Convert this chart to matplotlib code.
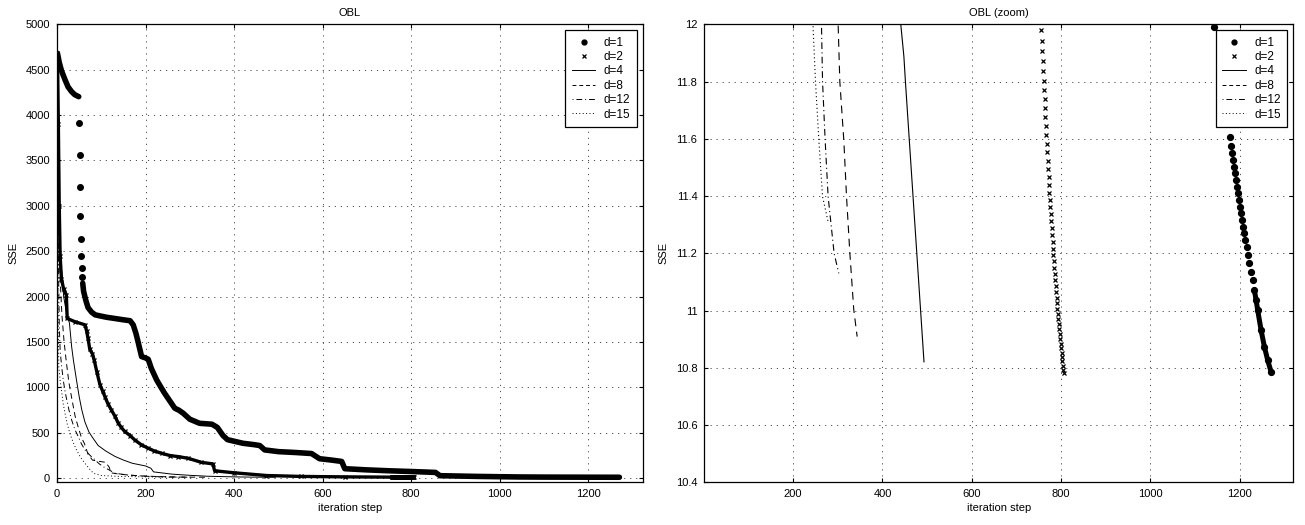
import matplotlib
matplotlib.use('Agg')
import matplotlib.pyplot as plt
from matplotlib.lines import Line2D
from matplotlib.ticker import FormatStrFormatter

plt.rcParams['font.family'] = ['Liberation Sans', 'DejaVu Sans']
plt.rcParams['font.size'] = 8

# d=1 : dense band at start, a few isolated iterations, then the long band
d1_head_x = [1, 5, 10, 18, 25, 33, 40, 49]
d1_head_y = [4680, 4580, 4490, 4390, 4310, 4258, 4225, 4203]
d1_jump_x = [50, 51, 52, 53, 54, 55, 56, 57]
d1_jump_y = [3916, 3561, 3211, 2889, 2632, 2448, 2313, 2214]
d1_body_x = [58, 60, 65, 70, 78, 86, 100, 112, 130, 150, 165, 172, 178, 183, 191, 200,
             206, 213, 225, 235, 243, 255, 266, 275, 285, 300, 322, 350, 362, 375, 385,
             398, 420, 445, 458, 469, 500, 540, 575, 593, 620, 643, 650, 700, 750, 800,
             855, 865, 950, 1044, 1100]
d1_body_y = [2148, 2060, 1960, 1880, 1830, 1800, 1785, 1773, 1760, 1745, 1735, 1690, 1600,
             1504, 1340, 1325, 1310, 1210, 1083, 1000, 936, 850, 771, 750, 716, 650, 605,
             595, 560, 470, 425, 410, 385, 370, 360, 312, 293, 283, 272, 215, 200, 185,
             105, 92, 82, 74, 64, 28, 20, 14, 12.5]
d1_tail_x = [1143, 1177, 1178.5, 1180.7, 1183, 1186, 1188, 1190.4, 1192, 1194, 1196.4,
             1197.8, 1200.9, 1203, 1205.4, 1207.6, 1210.5, 1212.8, 1215.7, 1218.8, 1221.7,
             1225.5, 1229, 1232.9, 1236.7, 1240.3, 1247.9, 1255.3, 1262.7, 1270.3]
d1_tail_y = [11.99, 11.654, 11.605, 11.576, 11.549, 11.526, 11.503, 11.479, 11.456, 11.433,
             11.410, 11.386, 11.363, 11.340, 11.316, 11.293, 11.270, 11.246, 11.221, 11.194,
             11.165, 11.136, 11.107, 11.072, 11.037, 11.002, 10.932, 10.874, 10.827, 10.786]

d2_x = [1, 3, 5, 7, 10, 15, 21, 23, 40, 63, 67, 70, 74, 80, 84, 90, 97, 103, 108, 115,
        123, 130, 138, 145, 153, 165, 176, 190, 206, 220, 236, 255, 274, 296, 326, 352,
        356, 400, 473, 550, 650,
        756, 757, 758, 759, 760, 761, 762, 763, 764, 765, 766, 767, 768, 769, 770, 771,
        772, 773, 774, 775, 776, 777, 778, 779, 780, 781, 782, 783, 784, 785, 786, 787,
        788, 789, 790, 791, 792, 793, 794, 795, 796, 797, 798, 799, 800, 801, 802, 803,
        804, 805, 806]
d2_y = [4680, 3900, 3000, 2450, 2200, 2080, 2020, 1760, 1725, 1690, 1620, 1540, 1420,
        1370, 1300, 1170, 1030, 960, 900, 820, 750, 690, 610, 560, 515, 470, 420, 370,
        330, 300, 275, 250, 238, 220, 175, 158, 82, 60, 30, 20, 15,
        11.980, 11.943, 11.907, 11.871, 11.838, 11.803, 11.771, 11.738, 11.707, 11.675,
        11.644, 11.612, 11.582, 11.553, 11.523, 11.496, 11.468, 11.440, 11.412, 11.386,
        11.363, 11.337, 11.312, 11.287, 11.263, 11.239, 11.216, 11.194, 11.172, 11.150,
        11.128, 11.107, 11.086, 11.065, 11.045, 11.025, 11.005, 10.987, 10.969, 10.952,
        10.934, 10.917, 10.900, 10.883, 10.868, 10.853, 10.838, 10.823, 10.807, 10.793,
        10.781]

d4_x = [1, 3, 6, 10, 15, 22, 28, 33, 37, 44, 50, 56, 63, 72, 80, 93, 110, 131, 150, 170,
        185, 200, 212, 218, 260, 300, 340, 400, 441, 448, 451.4, 493]
d4_y = [4680, 3500, 2700, 2300, 2000, 1800, 1710, 1450, 1300, 1080, 900, 752, 620, 510,
        450, 360, 300, 240, 200, 165, 150, 135, 110, 70, 45, 32, 22, 15, 12.0, 11.887,
        11.80, 10.821]

d8_x = [1, 2, 4, 7, 11, 16, 21, 27, 34, 41, 48, 55, 62, 70, 80, 90, 110, 118, 122, 140,
        180, 230, 270, 300.7, 304.5, 313.4, 319.5, 327, 335.8, 343.3]
d8_y = [4680, 3600, 2800, 2200, 1800, 1500, 1280, 1050, 860, 680, 560, 450, 380, 265,
        200, 190, 175, 120, 60, 45, 28, 18, 14, 12.0, 11.8, 11.596, 11.398, 11.2, 11.002,
        10.909]

d12_x = [1, 2, 3, 5, 7, 10, 14, 18, 22, 27, 33, 40, 48, 55, 63, 75, 86, 95, 104, 118,
         131, 160, 200, 240, 263.5, 265.8, 271.6, 278.3, 291.7, 302.2]
d12_y = [4680, 3300, 2500, 1700, 1413, 1250, 1083, 960, 862, 750, 642, 540, 458, 380,
         312, 250, 201, 160, 128, 90, 55, 35, 22, 15, 11.992, 11.8, 11.596, 11.398, 11.2,
         11.13]

d15_x = [1, 2, 3, 4, 7, 11, 14, 18, 23, 29, 36, 44, 53, 63, 72, 82, 100, 140, 200,
         244.7, 250, 257.5, 265.8, 278.3]
d15_y = [4680, 2500, 1600, 1229, 1080, 936, 820, 716, 600, 495, 400, 312, 230, 165, 110,
         55, 30, 20, 15, 11.986, 11.8, 11.596, 11.398, 11.31]

labels = ['d=1', 'd=2', 'd=4', 'd=8', 'd=12', 'd=15']

fig = plt.figure(figsize=(13.05, 5.25), dpi=100)
ax1 = fig.add_axes([0.0437, 0.0813, 0.4488, 0.8724])
ax2 = fig.add_axes([0.5397, 0.0813, 0.4513, 0.8724])

# left: full run
ax1.plot(d1_head_x, d1_head_y, 'k-', lw=4, solid_capstyle='round')
ax1.plot(d1_jump_x, d1_jump_y, 'ko', ms=4)
ax1.plot(d1_body_x + d1_tail_x, d1_body_y + d1_tail_y, 'k-', lw=4, solid_capstyle='round')
ax1.plot(d2_x, d2_y, 'k-', lw=2.4)
ax1.plot(d2_x, d2_y, 'kx', ms=3, mew=0.9)
ax1.plot(d4_x, d4_y, 'k-', lw=0.7)
ax1.plot(d8_x, d8_y, 'k', ls=(0, (6, 4)), lw=0.7)
ax1.plot(d12_x, d12_y, 'k', ls=(0, (6, 3, 1, 3)), lw=0.7)
ax1.plot(d15_x, d15_y, 'k', ls=(0, (1, 2.5)), lw=0.7)

# right: zoom on the end of the runs
dense = [y < 11.1 for y in d1_tail_y]
ax2.plot([x for x, m in zip(d1_tail_x, dense) if m],
         [y for y, m in zip(d1_tail_y, dense) if m], 'k-', lw=3.6, solid_capstyle='round')
ax2.plot(d1_tail_x, d1_tail_y, 'ko', ms=4.2)
ax2.plot(d2_x, d2_y, 'kx', ms=2.3, mew=0.9, ls='none')
ax2.plot(d4_x, d4_y, 'k-', lw=0.8)
ax2.plot(d8_x, d8_y, 'k', ls=(0, (7, 5)), lw=0.8)
ax2.plot(d12_x, d12_y, 'k', ls=(0, (6, 3, 1, 3)), lw=0.8)
ax2.plot(d15_x, d15_y, 'k', ls=(0, (1, 2.5)), lw=0.8)

ax1.set_xlim(0, 1323)
ax1.set_ylim(-45, 5000)
ax1.set_xticks([0, 200, 400, 600, 800, 1000, 1200])
ax1.set_yticks(range(0, 5001, 500))
ax1.set_title('OBL', fontsize=8, pad=6)

ax2.set_xlim(1, 1320)
ax2.set_ylim(10.4, 12)
ax2.set_xticks([200, 400, 600, 800, 1000, 1200])
ax2.set_yticks([10.4, 10.6, 10.8, 11.0, 11.2, 11.4, 11.6, 11.8, 12.0])
ax2.yaxis.set_major_formatter(FormatStrFormatter('%g'))
ax2.set_title('OBL (zoom)', fontsize=8, pad=6)

handles = [
    Line2D([], [], color='k', marker='o', ms=3.5, ls='none'),
    Line2D([], [], color='k', marker='x', ms=2.3, mew=0.9, ls='none'),
    Line2D([], [], color='k', lw=0.7),
    Line2D([], [], color='k', lw=0.7, ls=(0, (4, 3))),
    Line2D([], [], color='k', lw=0.7, ls=(0, (1, 3, 6, 3))),
    Line2D([], [], color='k', lw=0.7, ls=(0, (1, 2.5))),
]

for ax in (ax1, ax2):
    ax.set_axisbelow(True)
    ax.grid(True, color='0.3', ls=(0, (1.2, 5)), lw=0.7)
    ax.tick_params(direction='in', top=True, right=True, length=3, width=0.8,
                   labelsize=8, pad=5)
    for s in ax.spines.values():
        s.set_linewidth(0.9)
    ax.set_xlabel('iteration step', fontsize=8, labelpad=2.5)
    ax.set_ylabel('SSE', fontsize=8, labelpad=5)
    leg = ax.legend(handles, labels, loc='upper right', fontsize=8.5, fancybox=False,
                    edgecolor='k', framealpha=1, handlelength=2.0, handletextpad=0.7,
                    labelspacing=0.2, borderpad=0.55, borderaxespad=0.5)
    leg.get_frame().set_linewidth(0.9)
    leg.set_zorder(5)

fig.savefig('out.png', dpi=100)
